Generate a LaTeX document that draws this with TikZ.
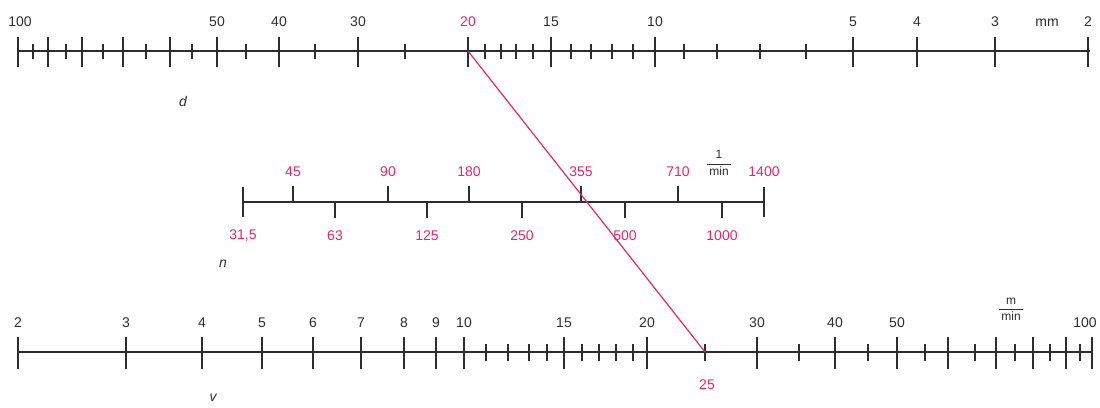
\documentclass[tikz,border=0pt]{standalone}
\usepackage{fontspec}
\setmainfont{Liberation Sans}
\definecolor{ink}{RGB}{45,45,45}
\definecolor{rose}{RGB}{226,38,112}
\begin{document}
\begin{tikzpicture}[x=1pt,y=-1pt,font=\fontsize{14}{16}\selectfont,
  axis/.style={draw=ink,line width=2pt},
  major/.style={draw=ink,line width=1.6pt},
  minor/.style={draw=ink,line width=1.4pt},
  lab/.style={text=ink,inner sep=0pt},
  plab/.style={text=rose,inner sep=0pt},
  var/.style={text=ink,inner sep=0pt,font=\fontsize{14}{16}\selectfont\itshape},
  frac/.style={text=ink,inner sep=0pt,font=\fontsize{12}{14}\selectfont}]
\useasboundingbox (0,0) rectangle (1100,407);

% ---------- d scale (top) ----------
\coordinate (dL) at (18,51);
\coordinate (dR) at (1090,51);
\draw[axis] (dL) -- (dR);
\foreach \x in {18,48,82,123,170,217,279,358,468,551,655,853,917,995,1088}
  \draw[major] (\x,37) -- (\x,67);
\foreach \x in {33,66,103,146,192,246,315,405,485,501,516,533,571,591,612,633,684,717,760,806}
  \draw[minor] (\x,44) -- (\x,59);
\foreach \v/\x in {100/20,50/217,40/279,30/358,15/551,10/655,5/853,4/917,3/995,2/1088}
  \node[lab] (dl\v) at (\x,22) {\v};
\node[plab] (dl20) at (468,22) {20};
\node[lab] (dunit) at (1047,23) {mm};
\node[var] (dvar) at (183,101) {d};

% ---------- n scale (middle) ----------
\coordinate (nL) at (243,202);
\coordinate (nR) at (764,202);
\draw[axis] (nL) -- (nR);
\draw[major] (243,187) -- (243,217);
\draw[major] (764,187) -- (764,217);
\foreach \x in {293,388,469,581,678}
  \draw[minor] (\x,186) -- (\x,202);
\foreach \x in {335,427,522,625,722}
  \draw[minor] (\x,202) -- (\x,218);
\foreach \v/\x in {45/293,90/388,180/469,355/581,710/678,1400/764}
  \node[plab] (nu\v) at (\x,172) {\v};
\node[plab] (nl31) at (243,236) {31,5};
\foreach \v/\x in {63/335,125/427,250/522,500/625,1000/722}
  \node[plab] (nl\v) at (\x,236) {\v};
\node[frac] (nunit) at (719,163) {$\displaystyle\frac{\mbox{\,1\,}}{\mbox{\,min\,}}$};
\node[var] (nvar) at (223,264) {n};

% ---------- v scale (bottom) ----------
\coordinate (vL) at (18,352);
\coordinate (vR) at (1092,352);
\draw[axis] (vL) -- (vR);
\foreach \x in {18,126,202,262,313,361,404,436,464,564,647,757,835,897,948,996,1033,1066,1092}
  \draw[major] (\x,337) -- (\x,369);
\foreach \x in {486,508,529,547,582,599,616,633,705,799,868,925,975,1015,1050,1080}
  \draw[minor] (\x,344) -- (\x,361);
\foreach \v/\x in {2/18,3/126,4/202,5/262,6/313,7/361,8/404,9/436,10/464,15/564,20/647,30/757,40/835,50/897,100/1085}
  \node[lab] (vl\v) at (\x,323) {\v};
\node[plab] (vl25) at (707,385) {25};
\node[frac] (vunit) at (1011,309) {$\displaystyle\frac{\mbox{\,m\,}}{\mbox{\,min\,}}$};
\node[var] (vvar) at (213,398) {v};

% ---------- reading line ----------
\coordinate (d20) at (468,51);
\coordinate (v25) at (705,352);
\draw[rose,line width=1.2pt] (d20) -- (v25);
\end{tikzpicture}
\end{document}
